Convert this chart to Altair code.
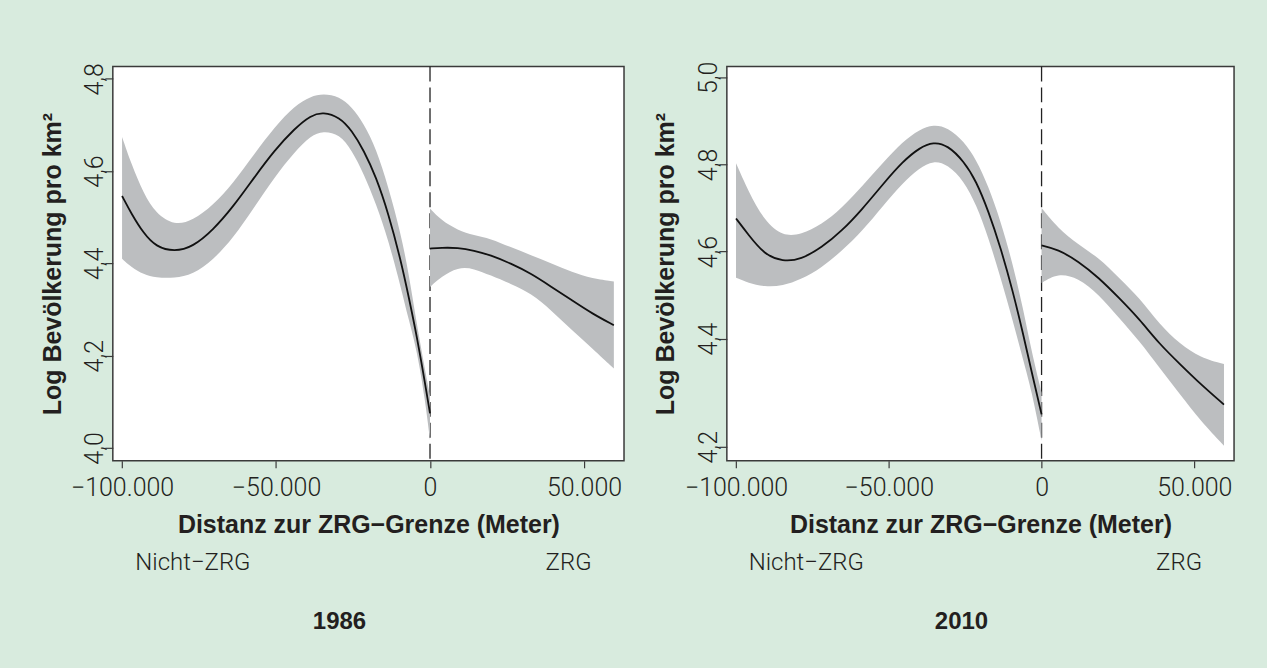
import altair as alt
import pandas as pd

# ---------------- data ----------------
# 1986, Nicht-ZRG side (x < 0)
x86_left = [-100000, -97000, -93000, -89000, -83000, -77000, -70500, -64000, -57000, -50500, -44000,
            -38700, -34700, -29400, -25400, -21500, -17500, -13500, -9500, -6900, -4250, -1600, 0]
y86_left = [4.546, 4.508, 4.465, 4.436, 4.425, 4.436, 4.472, 4.522, 4.587, 4.645, 4.692,
            4.721, 4.728, 4.717, 4.688, 4.645, 4.587, 4.508, 4.407, 4.327, 4.241, 4.140, 4.075]
hi86_left = [4.674, 4.616, 4.551, 4.508, 4.482, 4.493, 4.526, 4.573, 4.638, 4.695, 4.742,
             4.762, 4.768, 4.762, 4.739, 4.703, 4.649, 4.565, 4.465, 4.378, 4.266, 4.169, 4.112]
lo86_left = [4.410, 4.392, 4.376, 4.369, 4.368, 4.376, 4.407, 4.454, 4.522, 4.587, 4.641,
             4.677, 4.687, 4.680, 4.645, 4.594, 4.529, 4.450, 4.349, 4.277, 4.212, 4.104, 4.017]
# 1986, ZRG side (x > 0)
x86_right = [0, 3700, 9000, 14300, 19600, 26200, 32800, 39450, 46100, 52700, 59700]
y86_right = [4.432, 4.434, 4.434, 4.428, 4.418, 4.400, 4.378, 4.349, 4.320, 4.291, 4.266]
hi86_right = [4.519, 4.493, 4.472, 4.461, 4.454, 4.435, 4.418, 4.400, 4.381, 4.367, 4.361]
lo86_right = [4.349, 4.371, 4.392, 4.389, 4.374, 4.356, 4.335, 4.298, 4.255, 4.216, 4.172]

# 2010, Nicht-ZRG side
x10_left = [-100000, -96000, -90700, -84700, -78700, -72000, -65400, -58700, -52000, -45400, -40000,
            -35400, -30700, -25400, -21400, -17400, -13400, -9400, -6000, -3300, 0]
y10_left = [4.676, 4.639, 4.593, 4.577, 4.582, 4.609, 4.647, 4.697, 4.754, 4.807, 4.838,
            4.852, 4.844, 4.807, 4.762, 4.693, 4.609, 4.509, 4.410, 4.340, 4.260]
hi10_left = [4.803, 4.739, 4.670, 4.635, 4.639, 4.662, 4.700, 4.750, 4.803, 4.853, 4.880,
             4.892, 4.885, 4.853, 4.811, 4.750, 4.670, 4.571, 4.468, 4.377, 4.300]
lo10_left = [4.540, 4.528, 4.519, 4.521, 4.536, 4.563, 4.601, 4.647, 4.704, 4.758, 4.792,
             4.809, 4.800, 4.762, 4.708, 4.632, 4.540, 4.441, 4.360, 4.305, 4.211]
# 2010, ZRG side
x10_right = [0, 5300, 12000, 18700, 25300, 32000, 38600, 45300, 52000, 59700]
y10_right = [4.614, 4.605, 4.578, 4.540, 4.494, 4.445, 4.390, 4.353, 4.316, 4.278]
hi10_right = [4.700, 4.654, 4.616, 4.586, 4.540, 4.494, 4.433, 4.390, 4.365, 4.353]
lo10_right = [4.528, 4.551, 4.540, 4.502, 4.448, 4.396, 4.346, 4.297, 4.248, 4.202]

x_ticks = [-100000, -50000, 0, 50000]
y_ticks_1986 = [4.0, 4.2, 4.4, 4.6, 4.8]
y_ticks_2010 = [4.2, 4.4, 4.6, 4.8, 5.0]
side_labels = ["Nicht−ZRG", "ZRG"]
side_label_x = [-77000, 45000]
years = ["1986", "2010"]

X_TITLE = "Distanz zur ZRG−Grenze (Meter)"
Y_TITLE = "Log Bevölkerung pro km²"

TEXT = "#231f20"
FRAME = "#3a3a3a"
BAND = "#bcbec0"
GREEN = "#d8ebde"
LIGHT = "Roboto"
BOLD = "Liberation Sans"


def make_df(xl, yl, hl, ll, xr, yr, hr, lr):
    a = pd.DataFrame({"x": xl, "y": yl, "hi": hl, "lo": ll, "seg": "links"})
    b = pd.DataFrame({"x": xr, "y": yr, "hi": hr, "lo": lr, "seg": "rechts"})
    return pd.concat([a, b], ignore_index=True)


def panel(df, yscale, yticks, year, width, height, title_dx, ytitle_pad):
    xscale = alt.Scale(domain=[-103000, 63000], nice=False, zero=False)
    xaxis = alt.Axis(values=x_ticks, title=X_TITLE,
                     labelExpr="replace(format(datum.value, ','), ',', '.')",
                     grid=False, domain=False, tickSize=7, tickColor=FRAME, tickWidth=1.2,
                     labelFont=LIGHT, labelFontSize=25, labelFontWeight=300, labelColor=TEXT,
                     labelPadding=8,
                     titleFont=BOLD, titleFontSize=25, titleFontWeight="bold", titleColor=TEXT,
                     titlePadding=12)
    yaxis = alt.Axis(values=yticks, title=Y_TITLE,
                     labelExpr="replace(format(datum.value, '.1f'), '.', ',')",
                     grid=False, domain=False, tickSize=8, tickColor=FRAME, tickWidth=1.2,
                     labelFont=LIGHT, labelFontSize=25, labelFontWeight=300, labelColor=TEXT,
                     labelPadding=2,
                     labelAngle=270, labelAlign="center", labelBaseline="alphabetic",
                     titleFont=BOLD, titleFontSize=25, titleFontWeight="bold", titleColor=TEXT,
                     titlePadding=ytitle_pad)
    base = alt.Chart(df)
    rule = alt.Chart(pd.DataFrame({"x": [0]})).mark_rule(
        color="#222222", strokeWidth=1.3, strokeDash=[15, 6]).encode(x=alt.X("x:Q", scale=xscale))
    band = base.mark_area(color=BAND, opacity=1, interpolate="basis").encode(
        x=alt.X("x:Q", scale=xscale, axis=xaxis),
        y=alt.Y("lo:Q", scale=yscale, axis=yaxis),
        y2="hi:Q",
        detail="seg:N",
    )
    line = base.mark_line(color="#111111", strokeWidth=1.8, interpolate="basis").encode(
        x="x:Q", y="y:Q", detail="seg:N")
    labels = alt.Chart(pd.DataFrame({"x": side_label_x, "label": side_labels})).mark_text(
        font=LIGHT, fontSize=24, fontWeight=300, color=TEXT, baseline="middle", align="center").encode(
        x="x:Q", y=alt.value(height + 102), text="label:N")
    return alt.layer(rule, band, line, labels).properties(
        width=width, height=height,
        title=alt.TitleParams(year, orient="bottom", font=BOLD, fontSize=24, fontWeight="bold",
                              color=TEXT, offset=35, dx=title_dx),
    )


df86 = make_df(x86_left, y86_left, hi86_left, lo86_left, x86_right, y86_right, hi86_right, lo86_right)
df10 = make_df(x10_left, y10_left, hi10_left, lo10_left, x10_right, y10_right, hi10_right, lo10_right)

H = 395
yscale86 = alt.Scale(domain=[3.9722, 4.8268], nice=False, zero=False)
yscale10 = alt.Scale(domain=[4.174, 4.4, 5.025], range=[H, 272.7, 0], nice=False, zero=False)

p1 = panel(df86, yscale86, y_ticks_1986, years[0], 512, H, -29, 17)
p2 = panel(df10, yscale10, y_ticks_2010, years[1], 508, H, -19, 18)

chart = alt.hconcat(p1, p2, spacing=103, bounds="flush").properties(
    background=GREEN,
    padding={"left": 40, "top": 59, "right": 32, "bottom": 34},
).configure_view(stroke=FRAME, strokeWidth=1.5, fill="white")

chart.save("out.html", embed_options={"renderer": "svg", "actions": False})
